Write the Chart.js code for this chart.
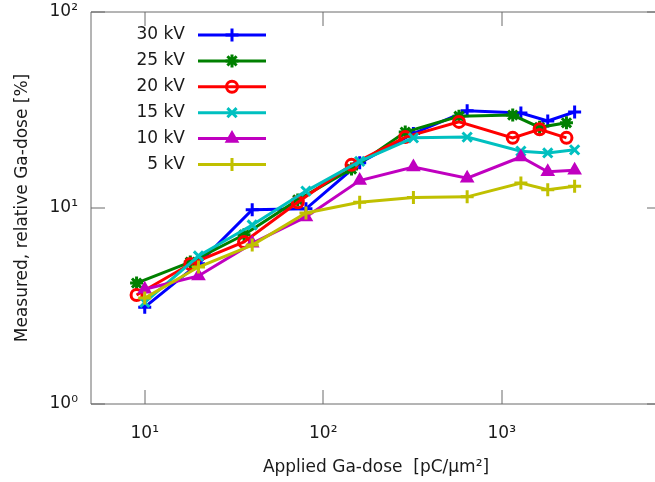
<!DOCTYPE html>
<html>
<head>
<meta charset="utf-8">
<script src="https://cdn.jsdelivr.net/npm/chart.js@4.4.0/dist/chart.umd.min.js"></script>
<style>
  html, body { margin: 0; padding: 0; background: #fff; overflow: hidden; }
  #wrap { width: 680px; height: 482px; }
</style>
</head>
<body>
<div id="wrap"><canvas id="chart" width="680" height="482"></canvas></div>
<script>
// data (log-log)
var labels = ["30 kV", "25 kV", "20 kV", "15 kV", "10 kV", "5 kV"];
var doseA = [10, 20, 40, 80, 160, 320, 640, 1280, 1810, 2560];   // 30, 15, 10, 5 kV
var doseB = [9, 18, 36, 72, 144, 288, 576, 1152, 1629, 2304];    // 25, 20 kV
var kv30 = [3.12, 5.2, 9.8, 9.9, 17.0, 24.0, 31.3, 30.5, 27.8, 30.9];
var kv25 = [4.14, 5.3, 7.3, 11.0, 15.8, 24.4, 29.4, 29.8, 25.8, 27.2];
var kv20 = [3.6, 5.18, 6.71, 10.7, 16.6, 23.0, 27.5, 22.8, 25.2, 22.8];
var kv15 = [3.3, 5.69, 8.19, 12.2, 17.3, 22.8, 23.0, 19.5, 19.1, 19.8];
var kv10 = [3.85, 4.5, 6.6, 9.0, 13.8, 16.2, 14.2, 18.2, 15.3, 15.6];
var kv5 = [3.47, 5.0, 6.47, 9.43, 10.7, 11.3, 11.4, 13.4, 12.4, 12.9];
var xTicks = [10, 100, 1000];
var yTicks = [1, 10, 100];
var tickText = { 1: "10\u2070", 10: "10\u00b9", 100: "10\u00b2", 1000: "10\u00b3" };

var colors = ["#0000ff", "#008000", "#ff0000", "#00c0c0", "#c000c0", "#c0c000"];
var styles = ["cross", "star", "circle", "crossRot", "triangle", "cross"];
var radii = [6.5, 6.5, 5.5, 6.5, 5.5, 6.5];
var FONT = "'DejaVu Sans', sans-serif";

function pts(xs, ys) {
    var out = [];
    for (var i = 0; i < xs.length; i++) out.push({ x: xs[i], y: ys[i] });
    return out;
}

var series = [pts(doseA, kv30), pts(doseB, kv25), pts(doseB, kv20), pts(doseA, kv15), pts(doseA, kv10), pts(doseA, kv5)];
var datasets = [];
for (var i = 0; i < series.length; i++) {
    datasets.push({
        label: labels[i],
        data: series[i],
        borderColor: colors[i],
        backgroundColor: colors[i],
        pointBackgroundColor: styles[i] == "circle" ? "rgba(0,0,0,0)" : colors[i],
        pointBorderColor: colors[i],
        pointStyle: styles[i],
        pointRadius: radii[i],
        pointBorderWidth: 3,
        borderWidth: 3,
        order: series.length - i,   // later series on top like gnuplot
        tension: 0
    });
}

function drawMarker(ctx, style, x, y, r) {
    ctx.beginPath();
    if (style == "cross") {
        ctx.moveTo(x - r, y); ctx.lineTo(x + r, y);
        ctx.moveTo(x, y - r); ctx.lineTo(x, y + r);
        ctx.stroke();
    } else if (style == "crossRot") {
        var d = r * 0.7071;
        ctx.moveTo(x - d, y - d); ctx.lineTo(x + d, y + d);
        ctx.moveTo(x - d, y + d); ctx.lineTo(x + d, y - d);
        ctx.stroke();
    } else if (style == "star") {
        var s = r * 0.7071;
        ctx.moveTo(x - r, y); ctx.lineTo(x + r, y);
        ctx.moveTo(x, y - r); ctx.lineTo(x, y + r);
        ctx.moveTo(x - s, y - s); ctx.lineTo(x + s, y + s);
        ctx.moveTo(x - s, y + s); ctx.lineTo(x + s, y - s);
        ctx.stroke();
    } else if (style == "circle") {
        ctx.arc(x, y, r, 0, Math.PI * 2);
        ctx.stroke();
    } else if (style == "triangle") {
        var a = -Math.PI / 2;
        ctx.moveTo(x + Math.cos(a) * r, y + Math.sin(a) * r);
        a += Math.PI * 2 / 3;
        ctx.lineTo(x + Math.cos(a) * r, y + Math.sin(a) * r);
        a += Math.PI * 2 / 3;
        ctx.lineTo(x + Math.cos(a) * r, y + Math.sin(a) * r);
        ctx.closePath();
        ctx.fill();
        ctx.stroke();
    }
}

// gnuplot style box, inward ticks and key
var framePlugin = {
    id: "frame",
    afterDraw: function(chart) {
        var ctx = chart.ctx;
        var a = chart.chartArea;
        var xs = chart.scales.x, ys = chart.scales.y;
        ctx.save();
        ctx.strokeStyle = "#6a6a6a";
        ctx.lineWidth = 1;
        ctx.beginPath();
        ctx.rect(a.left, a.top, a.right - a.left, a.bottom - a.top);
        xTicks.forEach(function(v) {
            var px = Math.round(xs.getPixelForValue(v));
            ctx.moveTo(px, a.bottom); ctx.lineTo(px, a.bottom - 14);
            ctx.moveTo(px, a.top); ctx.lineTo(px, a.top + 14);
        });
        yTicks.forEach(function(v) {
            var py = Math.round(ys.getPixelForValue(v));
            ctx.moveTo(a.left, py); ctx.lineTo(a.left + 14, py);
            ctx.moveTo(a.right, py); ctx.lineTo(a.right - 14, py);
        });
        ctx.stroke();

        // key
        ctx.font = "17px " + FONT;
        ctx.textAlign = "right";
        ctx.textBaseline = "middle";
        for (var i = 0; i < labels.length; i++) {
            var y = 35 + i * 25.9;
            ctx.fillStyle = "#1a1a1a";
            ctx.fillText(labels[i], 185, y);
            ctx.strokeStyle = colors[i];
            ctx.fillStyle = colors[i];
            ctx.lineWidth = 3;
            ctx.beginPath();
            ctx.moveTo(198, y); ctx.lineTo(266, y);
            ctx.stroke();
            drawMarker(ctx, styles[i], 232, y, radii[i]);
        }
        ctx.restore();
    }
};

new Chart(document.getElementById("chart"), {
    type: "line",
    data: { datasets: datasets },
    plugins: [framePlugin],
    options: {
        responsive: false,
        animation: false,
        layout: { padding: { top: 12, right: 19, left: 0, bottom: 0 } },
        plugins: { legend: { display: false }, tooltip: { enabled: false } },
        scales: {
            x: {
                type: "logarithmic",
                min: 5,
                max: 7800,
                offset: false,
                grid: { display: false, drawTicks: false },
                border: { display: false },
                afterBuildTicks: function(scale) {
                    scale.ticks = xTicks.map(function(v) { return { value: v }; });
                },
                afterFit: function(scale) {
                    scale.height = 78;
                    scale.paddingLeft = 0;
                    scale.paddingRight = 0;
                },
                ticks: {
                    autoSkip: false,
                    maxRotation: 0,
                    padding: 19,
                    color: "#1a1a1a",
                    font: { family: FONT, size: 17 },
                    callback: function(v) { return tickText[v] || ""; }
                },
                title: {
                    display: true,
                    text: "Applied Ga-dose  [pC/\u03bcm\u00b2]",
                    color: "#1a1a1a",
                    font: { family: FONT, size: 17 },
                    padding: { top: 0, bottom: 4 }
                }
            },
            y: {
                type: "logarithmic",
                min: 1,
                max: 100,
                grid: { display: false, drawTicks: false },
                border: { display: false },
                afterBuildTicks: function(scale) {
                    scale.ticks = yTicks.map(function(v) { return { value: v }; });
                },
                afterFit: function(scale) {
                    scale.width = 91;
                    scale.paddingTop = 0;
                    scale.paddingBottom = 0;
                },
                ticks: {
                    autoSkip: false,
                    padding: 13,
                    color: "#1a1a1a",
                    font: { family: FONT, size: 17 },
                    callback: function(v) { return tickText[v] || ""; }
                },
                title: {
                    display: true,
                    text: "Measured, relative Ga-dose [%]",
                    color: "#1a1a1a",
                    font: { family: FONT, size: 17 },
                    padding: { top: 12, bottom: 0 }
                }
            }
        }
    }
});
</script>
</body>
</html>
